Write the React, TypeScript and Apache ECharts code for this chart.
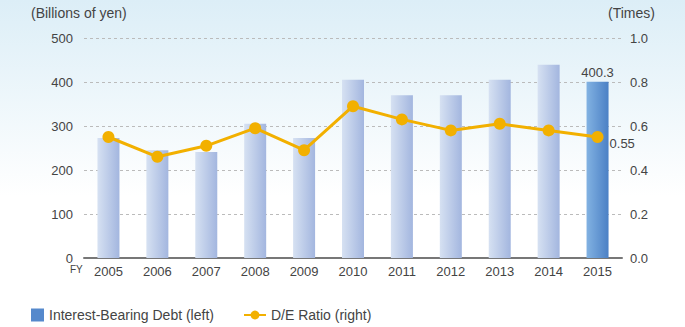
import React, { useEffect, useRef } from "react";
import * as echarts from "echarts";

const years = ["2005", "2006", "2007", "2008", "2009", "2010", "2011", "2012", "2013", "2014", "2015"];
const debt = [273, 245, 241, 305, 273, 405, 370, 370, 405, 439, 400.3];
const deRatio = [0.55, 0.46, 0.51, 0.59, 0.49, 0.69, 0.63, 0.58, 0.61, 0.58, 0.55];
const leftTicks = [0, 100, 200, 300, 400, 500];
const rightTicks = [0, 0.2, 0.4, 0.6, 0.8, 1.0];

const FONT = "Liberation Sans, Arial, sans-serif";

export default function App() {
  const ref = useRef<HTMLDivElement>(null);
  useEffect(() => {
    if (!ref.current) return;
    const chart = echarts.init(ref.current, null, { renderer: "svg" });
    const lastIdx = debt.length - 1;
    const barNormal = new echarts.graphic.LinearGradient(0, 0, 1, 0, [
      { offset: 0, color: "#d6e1f2" },
      { offset: 1, color: "#a3b6df" },
    ]);
    const barLast = new echarts.graphic.LinearGradient(0, 0, 1, 0, [
      { offset: 0, color: "#82b2e2" },
      { offset: 1, color: "#4b80c5" },
    ]);
    chart.setOption({
      animation: false,
      backgroundColor: new echarts.graphic.LinearGradient(0, 0, 0, 1, [
        { offset: 0, color: "#dceef7" },
        { offset: 0.6, color: "#ffffff" },
        { offset: 1, color: "#ffffff" },
      ]),
      textStyle: { fontFamily: FONT },
      grid: { left: 84, right: 63, top: 38, bottom: 69 },
      xAxis: {
        type: "category",
        data: years,
        axisLine: { lineStyle: { color: "#777", width: 2 } },
        axisTick: { show: false },
        axisLabel: { color: "#444", fontSize: 13, fontFamily: FONT, margin: 7 },
      },
      yAxis: [
        {
          type: "value",
          min: leftTicks[0],
          max: leftTicks[leftTicks.length - 1],
          interval: 100,
          name: "(Billions of yen)",
          nameLocation: "end",
          nameGap: 18,
          nameTextStyle: { color: "#444", fontSize: 14, fontFamily: FONT, align: "left", padding: [0, 0, 0, -53] },
          axisLine: { show: false },
          axisTick: { show: false },
          axisLabel: { color: "#444", fontSize: 13, fontFamily: FONT, margin: 11 },
          splitLine: { lineStyle: { color: "#bbb", type: [3, 3], width: 1 } },
        },
        {
          type: "value",
          min: rightTicks[0],
          max: rightTicks[rightTicks.length - 1],
          interval: 0.2,
          name: "(Times)",
          nameLocation: "end",
          nameGap: 18,
          nameTextStyle: { color: "#444", fontSize: 14, fontFamily: FONT, align: "left", padding: [0, 0, 0, -14] },
          axisLine: { show: false },
          axisTick: { show: false },
          axisLabel: { color: "#444", fontSize: 13, fontFamily: FONT, margin: 8, formatter: (v: number) => v.toFixed(1) },
          splitLine: { show: false },
        },
      ],
      legend: [
        {
          left: 26,
          top: 303,
          itemWidth: 13,
          itemHeight: 13,
          itemGap: 4,
          textStyle: { color: "#444", fontSize: 14, fontFamily: FONT },
          data: [{ name: "Interest-Bearing Debt (left)", icon: "rect", itemStyle: { color: "#5589cc" } }],
        },
        {
          left: 238,
          top: 303,
          itemWidth: 22,
          itemHeight: 11,
          itemGap: 4,
          textStyle: { color: "#444", fontSize: 14, fontFamily: FONT },
          data: ["D/E Ratio (right)"],
        },
      ],
      graphic: [
        {
          type: "text",
          left: 70,
          top: 264,
          style: { text: "FY", fill: "#444", font: `10px ${FONT}` },
        },
      ],
      series: [
        {
          name: "Interest-Bearing Debt (left)",
          type: "bar",
          yAxisIndex: 0,
          barWidth: 22,
          itemStyle: { color: "#5589cc" },
          data: debt.map((v, i) => ({
            value: v,
            itemStyle: { color: i === lastIdx ? barLast : barNormal },
            label:
              i === lastIdx
                ? { show: true, position: "top", color: "#444", fontSize: 13, fontFamily: FONT, distance: 3, formatter: (p: any) => p.value.toFixed(1) }
                : { show: false },
          })),
        },
        {
          name: "D/E Ratio (right)",
          type: "line",
          yAxisIndex: 1,
          symbol: "circle",
          symbolSize: 12,
          itemStyle: { color: "#f2b000" },
          lineStyle: { color: "#f2b000", width: 3 },
          data: deRatio.map((v, i) => ({
            value: v,
            label:
              i === lastIdx
                ? { show: true, position: "right", color: "#444", fontSize: 13, fontFamily: FONT, distance: 6, offset: [0, 6], formatter: (p: any) => p.value.toFixed(2) }
                : { show: false },
          })),
          z: 5,
        },
      ],
    });
    return () => chart.dispose();
  }, []);
  return <div ref={ref} style={{ position: "fixed", left: 0, top: 0, width: 685, height: 327 }} />;
}
